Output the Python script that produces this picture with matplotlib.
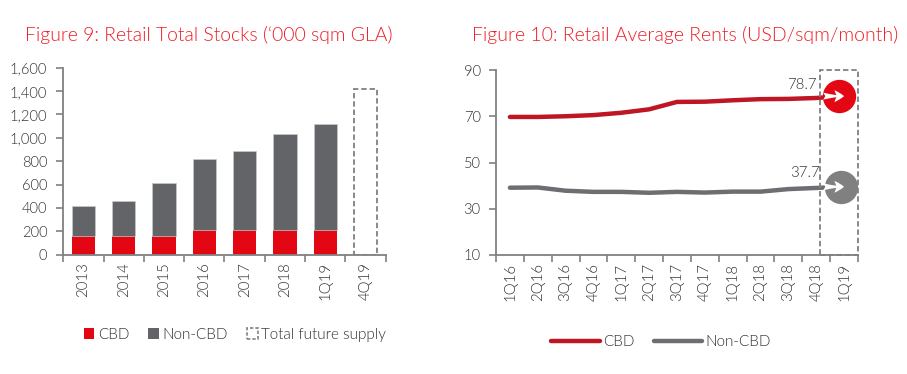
import numpy as np
import matplotlib
matplotlib.use("Agg")
import matplotlib.pyplot as plt
from matplotlib.patches import Rectangle, Patch
from matplotlib.lines import Line2D
from matplotlib.transforms import ScaledTranslation

plt.rcParams['font.family'] = ['Lato', 'DejaVu Sans']
plt.rcParams['font.weight'] = 300

years = ['2013', '2014', '2015', '2016', '2017', '2018', '1Q19', '4Q19']
cbd_stock = [157, 157, 157, 211, 211, 211, 211, 0]
noncbd_stock = [257, 300, 454, 605, 676, 819, 910, 0]
future_supply = [0, 0, 0, 0, 0, 0, 0, 1420]
stock_ticks = [0, 200, 400, 600, 800, 1000, 1200, 1400, 1600]

quarters = ['1Q16', '2Q16', '3Q16', '4Q16', '1Q17', '2Q17', '3Q17', '4Q17',
            '1Q18', '2Q18', '3Q18', '4Q18', '1Q19']
cbd_rent = [69.7, 69.7, 70.0, 70.5, 71.5, 73.0, 76.2, 76.3, 76.9, 77.4, 77.5, 77.9, 78.7]
noncbd_rent = [39.1, 39.2, 37.8, 37.3, 37.3, 36.9, 37.3, 37.0, 37.4, 37.4, 38.5, 39.0, 39.5]
rent_ticks = [10, 30, 50, 70, 90]
cbd_label, noncbd_label = '78.7', '37.7'

RED = '#E30613'
DARKRED = '#BE1622'
GREY = '#636468'
LINEGREY = '#6D6E71'
CIRCGREY = '#808080'
AXIS = '#808080'
TXT = '#303030'
TITLE = '#EE1C25'
W, H = 907, 374

fig = plt.figure(figsize=(W / 100, H / 100), dpi=100, facecolor='white')


def make_axes(x0, x1, ytop, ybot):
    return fig.add_axes([x0 / W, 1 - ybot / H, (x1 - x0) / W, (ybot - ytop) / H])


def style(ax, labels, ticks, ypad):
    n = len(labels)
    ax.set_xlim(-0.5, n - 0.5)
    ax.set_yticks(ticks)
    ax.set_xticks(np.arange(n + 1) - 0.5)
    ax.set_xticklabels([])
    ax.set_xticks(np.arange(n), minor=True)
    ax.set_xticklabels(labels, minor=True, rotation=90, fontsize=10.8, color=TXT)
    ax.tick_params(axis='x', which='minor', length=0, pad=5.5)
    ax.tick_params(axis='x', which='major', length=5, width=1.2, color=AXIS)
    ax.tick_params(axis='y', length=5, width=1.2, color=AXIS, labelsize=10.6, labelcolor=TXT, pad=ypad)
    for s in ('top', 'right'):
        ax.spines[s].set_visible(False)
    for s in ('left', 'bottom'):
        ax.spines[s].set_color(AXIS)
        ax.spines[s].set_linewidth(1.3)


# ---------- Figure 9
ax1 = make_axes(63.3, 385.7, 67.7, 254.7)
x = np.arange(len(years))
ax1.bar(x, cbd_stock, width=0.58, color=RED, linewidth=0, zorder=2)
ax1.bar(x, noncbd_stock, width=0.58, bottom=cbd_stock, color=GREY,
        edgecolor='#C8C8C8', linewidth=0.5, zorder=2)
ax1.bar(x, future_supply, width=0.58, facecolor='none', edgecolor=CIRCGREY,
        linewidth=1.3, linestyle=(0, (3, 1.6)), zorder=2)
ax1.set_ylim(0, 1600)
style(ax1, years, stock_ticks, 6.5)
ax1.yaxis.set_major_formatter(matplotlib.ticker.FuncFormatter(lambda v, _: f'{int(v):,}'))
fig.text(208.5 / W, 1 - 35 / H, 'Figure 9: Retail Total Stocks (‘000 sqm GLA)', color=TITLE,
         fontsize=13.95, ha='center', va='center')
h1 = [Patch(facecolor=RED), Patch(facecolor=GREY),
      Patch(facecolor='none', edgecolor=CIRCGREY, linestyle=(0, (2, 1.2)), linewidth=1.2)]
fig.legend(h1, ['CBD', 'Non-CBD', 'Total future supply'], loc='center', frameon=False,
           bbox_to_anchor=(235 / W, 1 - 335 / H), ncol=3, fontsize=11, labelcolor=TXT,
           handlelength=0.68, handleheight=0.68, handletextpad=0.25, columnspacing=1.25)

# ---------- Figure 10
ax2 = make_axes(496, 858, 70, 255)
xq = np.arange(len(quarters))
ax2.set_ylim(10, 90)
style(ax2, quarters, rent_ticks, 6)
ax2.plot(xq, cbd_rent, color=DARKRED, lw=3.2, solid_capstyle='round', zorder=3)
ax2.plot(xq, noncbd_rent, color=LINEGREY, lw=3.2, solid_capstyle='round', zorder=3)
ax2.add_patch(Rectangle((11.13, 10), 12.5 - 11.13, 80, facecolor='none', edgecolor=CIRCGREY,
                        linewidth=1.3, linestyle=(0, (3, 1.6)), zorder=4, clip_on=False))
for vals, col, lab, dx, lx, ly in ((cbd_rent, RED, cbd_label, -5.0, -19.6, 8),
                                   (noncbd_rent, CIRCGREY, noncbd_label, -3, -17.3, 10)):
    off = ScaledTranslation(dx / 100, 0, fig.dpi_scale_trans)
    tr = ax2.transData + off
    ax2.plot([xq[-1]], [vals[-1]], 'o', ms=24, color=col, mec='none',
             transform=tr, zorder=5, clip_on=False)
    ax2.annotate('', xy=(xq[-1], vals[-1]), xycoords='data',
                 xytext=(-15, 0), textcoords='offset points',
                 arrowprops=dict(arrowstyle='fancy,head_length=0.7,head_width=0.85,tail_width=0.5',
                                 color='white', lw=0, shrinkA=0, shrinkB=0), zorder=6)
    ax2.annotate(lab, xy=(xq[-1], vals[-1]), xycoords='data', xytext=(lx, ly),
                 textcoords='offset points', ha='right', va='center', fontsize=10.8,
                 color=TXT, zorder=6)
fig.text(685.5 / W, 1 - 35 / H, 'Figure 10: Retail Average Rents (USD/sqm/month)', color=TITLE,
         fontsize=14.05, ha='center', va='center')
h2 = [Line2D([], [], color=DARKRED, lw=3.2, solid_capstyle='round'),
      Line2D([], [], color=LINEGREY, lw=3.2, solid_capstyle='round')]
fig.legend(h2, ['CBD', 'Non-CBD'], loc='center', frameon=False,
           bbox_to_anchor=(661 / W, 1 - 342 / H), ncol=2, fontsize=11, labelcolor=TXT,
           handlelength=3.2, handletextpad=0.2, columnspacing=1.25)

fig.savefig('out.png', dpi=100)
